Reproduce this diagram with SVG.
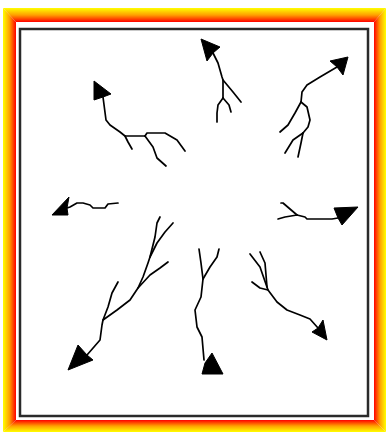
<svg xmlns="http://www.w3.org/2000/svg" width="386" height="432" viewBox="0 0 386 432">
<defs>
<linearGradient id="gTop" x1="0" y1="8" x2="0" y2="22" gradientUnits="userSpaceOnUse"><stop offset="0" stop-color="#ffff00"/><stop offset="0.5" stop-color="#ffa000"/><stop offset="1" stop-color="#ff0000"/></linearGradient>
<linearGradient id="gLeft" x1="3" y1="0" x2="16" y2="0" gradientUnits="userSpaceOnUse"><stop offset="0" stop-color="#ffff00"/><stop offset="0.5" stop-color="#ffa000"/><stop offset="1" stop-color="#ff0000"/></linearGradient>
<linearGradient id="gRight" x1="386" y1="0" x2="374" y2="0" gradientUnits="userSpaceOnUse"><stop offset="0" stop-color="#ffff00"/><stop offset="0.5" stop-color="#ffa000"/><stop offset="1" stop-color="#ff0000"/></linearGradient>
<linearGradient id="gBottom" x1="0" y1="432" x2="0" y2="420" gradientUnits="userSpaceOnUse"><stop offset="0" stop-color="#ffff00"/><stop offset="0.5" stop-color="#ffa000"/><stop offset="1" stop-color="#ff0000"/></linearGradient>
</defs>
<style>
.shaft{fill:none;stroke:#000;stroke-width:1.7;stroke-linejoin:round;stroke-linecap:round}
.head{fill:#000;stroke:#000;stroke-width:1;stroke-linejoin:round}
</style>
<rect width="386" height="432" fill="#fff"/>
<g id="frame">
<polygon points="3,8 386,8 374,22 16,22" fill="url(#gTop)"/>
<polygon points="3,432 386,432 374,420 16,420" fill="url(#gBottom)"/>
<polygon points="3,8 16,22 16,420 3,432" fill="url(#gLeft)"/>
<polygon points="386,8 374,22 374,420 386,432" fill="url(#gRight)"/>
<rect x="20" y="29" width="348" height="387" fill="#fff" stroke="#2a2a2a" stroke-width="2.5"/>
</g>
<g id="connectors">
<g id="arrow-upleft">
<polygon class="head" points="94,81 111,94 103,97 94,100"/>
<polyline class="shaft" points="103,97 106,120 110,125 120,132 125,136 145,136"/>
<polyline class="shaft" points="125,136 128,142 132,149"/>
<polyline class="shaft" points="145,136 147,133 165,133 177,140 185,151"/>
<polyline class="shaft" points="145,136 153,147 157,158 166,166"/>
</g>
<g id="arrow-up">
<polygon class="head" points="201,39 220,47 213,53 207,61"/>
<polyline class="shaft" points="213,53 218,63 222,77 223,80 223,98"/>
<polyline class="shaft" points="223,80 233,92 241,102"/>
<polyline class="shaft" points="223,98 218,105 217,113 217,122"/>
<polyline class="shaft" points="223,98 229,105 231,112"/>
</g>
<g id="arrow-upright">
<polygon class="head" points="348,57 330,61 337,67 343,75"/>
<polyline class="shaft" points="337,67 320,77 307,85 302,92 301,102"/>
<polyline class="shaft" points="301,102 295,113 288,125 280,132"/>
<polyline class="shaft" points="301,102 307,107 310,120 308,127 303,133"/>
<polyline class="shaft" points="303,133 293,140 285,153"/>
<polyline class="shaft" points="303,133 301,143 298,157"/>
</g>
<g id="arrow-left">
<polygon class="head" points="69,197 52,215 68,215 67,208"/>
<polyline class="shaft" points="67,208 70,207 77,203 83,203 90,205 93,208 105,208 108,204 118,203"/>
</g>
<g id="arrow-right">
<polygon class="head" points="334,208 358,207 342,225 338,218"/>
<polyline class="shaft" points="338,218 332,219 307,219 305,217 297,215"/>
<polyline class="shaft" points="297,215 290,209 283,203 281,203"/>
<polyline class="shaft" points="297,215 285,217 278,219"/>
</g>
<g id="arrow-downleft">
<polygon class="head" points="78,345 87,355 93,360 68,370"/>
<polyline class="shaft" points="87,355 100,340 102,325 103,320 117,310 130,300 138,288 143,277 148,263 150,257 155,237 157,223 160,217"/>
<polyline class="shaft" points="103,320 108,307 112,293 118,282"/>
<polyline class="shaft" points="138,288 150,275 160,268 168,262"/>
<polyline class="shaft" points="150,257 157,243 165,232 173,223"/>
</g>
<g id="arrow-down">
<polygon class="head" points="212,353 223,374 202,374 205,363"/>
<polyline class="shaft" points="199,249 201,263 203,279 201,297 195,310 197,327 202,337 204,360"/>
<polyline class="shaft" points="203,279 210,267 217,257 219,249"/>
</g>
<g id="arrow-downright">
<polygon class="head" points="323,320 327,340 312,332 318,328"/>
<polyline class="shaft" points="250,254 260,267 268,290 277,302 287,310 300,315 310,319 318,328"/>
<polyline class="shaft" points="260,252 265,263 267,287"/>
<polyline class="shaft" points="252,282 260,288 268,290"/>
</g>
</g>
</svg>
